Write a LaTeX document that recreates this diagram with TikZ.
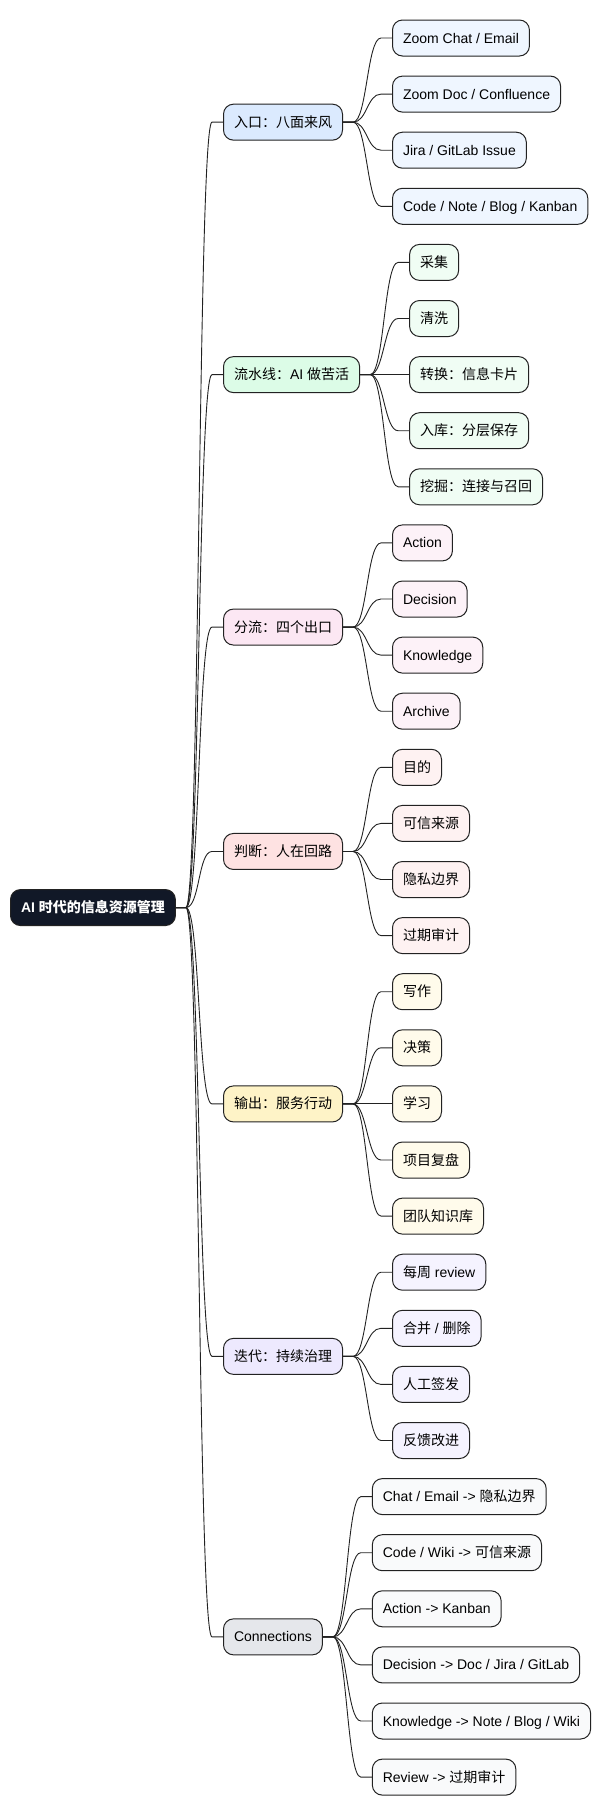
\documentclass[tikz,border=0pt]{standalone}
\usepackage{fontspec}
\setmainfont{Liberation Sans}
\newfontfamily\cjk{Noto Sans CJK SC}
\usetikzlibrary{calc}
\definecolor{rootc}{HTML}{111827}
\definecolor{bluep}{HTML}{DBEAFE}\definecolor{bluel}{HTML}{EFF6FF}
\definecolor{greenp}{HTML}{DCFCE7}\definecolor{greenl}{HTML}{F0FDF4}
\definecolor{pinkp}{HTML}{FCE7F3}\definecolor{pinkl}{HTML}{FDF2F8}
\definecolor{redp}{HTML}{FEE2E2}\definecolor{redl}{HTML}{FEF2F2}
\definecolor{yelp}{HTML}{FEF3C7}\definecolor{yell}{HTML}{FFFBEB}
\definecolor{violp}{HTML}{EDE9FE}\definecolor{violl}{HTML}{F5F3FF}
\definecolor{grayp}{HTML}{E5E7EB}\definecolor{grayl}{HTML}{F9FAFB}
\definecolor{edgec}{HTML}{222222}
\tikzset{
  box/.style={draw=edgec, line width=1pt, rounded corners=10pt, minimum height=36pt,
    inner xsep=10.5pt, inner ysep=0pt, anchor=west, text height=10pt, text depth=0pt,
    font=\fontsize{14}{16}\selectfont},
  rootbox/.style={box, fill=rootc, text=white, font=\fontsize{14}{16}\selectfont\bfseries},
  link/.style={draw=edgec, line width=0.9pt},
}
\newcommand\mmlink[2]{%
  \draw[link] (#1.east) -- ++(10,0) coordinate (lk)
    .. controls ($(lk)+(14,0)$) and ($(#2.west)+(-25,0)$) .. ($(#2.west)+(-11,0)$) -- (#2.west);}
\begin{document}
\begin{tikzpicture}[x=1pt,y=-1pt]
\useasboundingbox (0,0) rectangle (599,1816);
% root
\node[rootbox] (root) at (10,907.55) {AI {\cjk 时代的信息资源管理}};
% parents
\node[box, fill=bluep]  (p1) at (223,122.15) {\cjk 入口：八面来风};
\node[box, fill=greenp] (p2) at (223,374.6) {{\cjk 流水线：}AI {\cjk 做苦活}};
\node[box, fill=pinkp]  (p3) at (223,627.05) {\cjk 分流：四个出口};
\node[box, fill=redp]   (p4) at (223,851.45) {\cjk 判断：人在回路};
\node[box, fill=yelp]   (p5) at (223,1103.9) {\cjk 输出：服务行动};
\node[box, fill=violp]  (p6) at (223,1356.35) {\cjk 迭代：持续治理};
\node[box, fill=grayp]  (p7) at (223,1636.85) {Connections};
\foreach \p in {p1,p2,p3,p4,p5,p6,p7} {\mmlink{root}{\p}}
% group 1
\path ([xshift=49pt]p1.east) coordinate (g1);
\node[box, fill=bluel] (a1) at (g1 |- 0,38) {Zoom Chat / Email};
\node[box, fill=bluel] (a2) at (g1 |- 0,94.1) {Zoom Doc / Confluence};
\node[box, fill=bluel] (a3) at (g1 |- 0,150.2) {Jira / GitLab Issue};
\node[box, fill=bluel] (a4) at (g1 |- 0,206.3) {Code / Note / Blog / Kanban};
\foreach \c in {a1,a2,a3,a4} {\mmlink{p1}{\c}}
% group 2
\path ([xshift=49pt]p2.east) coordinate (g2);
\node[box, fill=greenl] (b1) at (g2 |- 0,262.4) {\cjk 采集};
\node[box, fill=greenl] (b2) at (g2 |- 0,318.5) {\cjk 清洗};
\node[box, fill=greenl] (b3) at (g2 |- 0,374.6) {\cjk 转换：信息卡片};
\node[box, fill=greenl] (b4) at (g2 |- 0,430.7) {\cjk 入库：分层保存};
\node[box, fill=greenl] (b5) at (g2 |- 0,486.8) {\cjk 挖掘：连接与召回};
\foreach \c in {b1,b2,b3,b4,b5} {\mmlink{p2}{\c}}
% group 3
\path ([xshift=49pt]p3.east) coordinate (g3);
\node[box, fill=pinkl] (c1) at (g3 |- 0,542.9) {Action};
\node[box, fill=pinkl] (c2) at (g3 |- 0,599) {Decision};
\node[box, fill=pinkl] (c3) at (g3 |- 0,655.1) {Knowledge};
\node[box, fill=pinkl] (c4) at (g3 |- 0,711.2) {Archive};
\foreach \c in {c1,c2,c3,c4} {\mmlink{p3}{\c}}
% group 4
\path ([xshift=49pt]p4.east) coordinate (g4);
\node[box, fill=redl] (d1) at (g4 |- 0,767.3) {\cjk 目的};
\node[box, fill=redl] (d2) at (g4 |- 0,823.4) {\cjk 可信来源};
\node[box, fill=redl] (d3) at (g4 |- 0,879.5) {\cjk 隐私边界};
\node[box, fill=redl] (d4) at (g4 |- 0,935.6) {\cjk 过期审计};
\foreach \c in {d1,d2,d3,d4} {\mmlink{p4}{\c}}
% group 5
\path ([xshift=49pt]p5.east) coordinate (g5);
\node[box, fill=yell] (e1) at (g5 |- 0,991.7) {\cjk 写作};
\node[box, fill=yell] (e2) at (g5 |- 0,1047.8) {\cjk 决策};
\node[box, fill=yell] (e3) at (g5 |- 0,1103.9) {\cjk 学习};
\node[box, fill=yell] (e4) at (g5 |- 0,1160) {\cjk 项目复盘};
\node[box, fill=yell] (e5) at (g5 |- 0,1216.1) {\cjk 团队知识库};
\foreach \c in {e1,e2,e3,e4,e5} {\mmlink{p5}{\c}}
% group 6
\path ([xshift=49pt]p6.east) coordinate (g6);
\node[box, fill=violl] (f1) at (g6 |- 0,1272.2) {{\cjk 每周} review};
\node[box, fill=violl] (f2) at (g6 |- 0,1328.3) {{\cjk 合并} / {\cjk 删除}};
\node[box, fill=violl] (f3) at (g6 |- 0,1384.4) {\cjk 人工签发};
\node[box, fill=violl] (f4) at (g6 |- 0,1440.5) {\cjk 反馈改进};
\foreach \c in {f1,f2,f3,f4} {\mmlink{p6}{\c}}
% group 7
\path ([xshift=49pt]p7.east) coordinate (g7);
\node[box, fill=grayl] (h1) at (g7 |- 0,1496.6) {Chat / Email -> {\cjk 隐私边界}};
\node[box, fill=grayl] (h2) at (g7 |- 0,1552.7) {Code / Wiki -> {\cjk 可信来源}};
\node[box, fill=grayl] (h3) at (g7 |- 0,1608.8) {Action -> Kanban};
\node[box, fill=grayl] (h4) at (g7 |- 0,1664.9) {Decision -> Doc / Jira / GitLab};
\node[box, fill=grayl] (h5) at (g7 |- 0,1721) {Knowledge -> Note / Blog / Wiki};
\node[box, fill=grayl] (h6) at (g7 |- 0,1777.1) {Review -> {\cjk 过期审计}};
\foreach \c in {h1,h2,h3,h4,h5,h6} {\mmlink{p7}{\c}}
\end{tikzpicture}
\end{document}
